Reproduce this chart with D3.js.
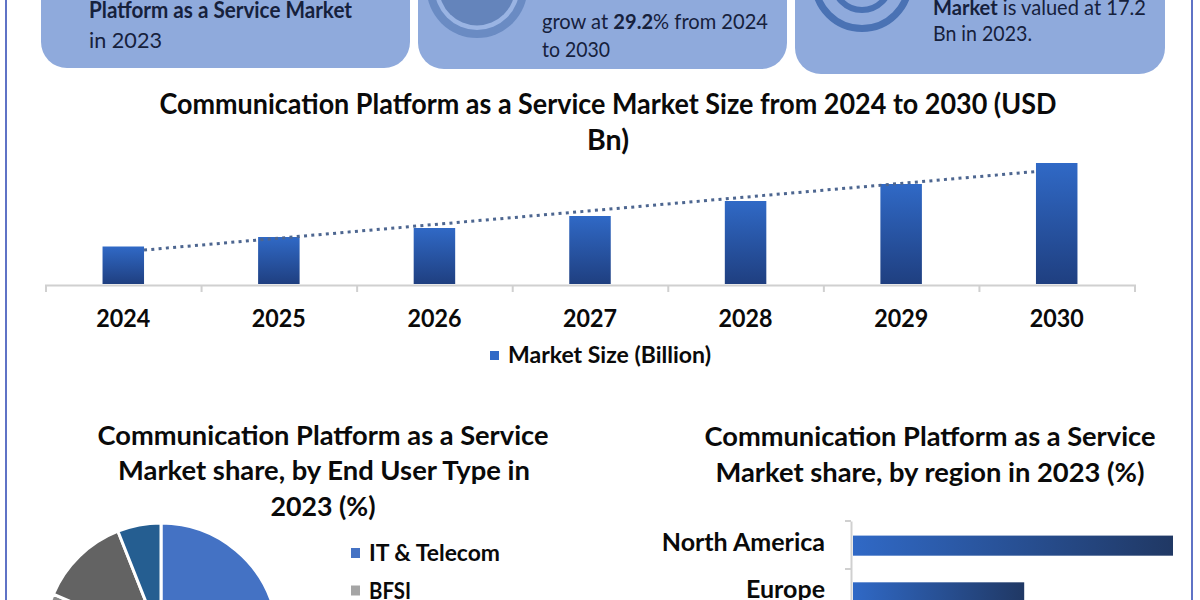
<!DOCTYPE html>
<html>
<head>
  <title>Communication Platform as a Service Market</title>
  <meta charset="utf-8" />
  <script src="https://d3js.org/d3.v7.min.js"></script>
  <style>
    html,body{margin:0;padding:0;background:#fff;}
    svg{display:block;}
    text{font-family:Lato,"Noto Sans",sans-serif;fill:#0a0a0a;}
    .card{fill:#16213c;}
  </style>
</head>
<body>
<script>
//values
var years = ['2024','2025','2026','2027','2028','2029','2030'];
var marketSize = [37.5,47,56,68,83,100,121];
var pieLabels = ['IT & Telecom','BFSI'];
var pieWidths = [131,42];
var pieValues = [44.4,20,17,12.6,6];
var pieColors = ['#4472c4','#a5a5a5','#8c8c8c','#636363','#255e91'];
var regions = ['North America','Europe'];
var regionShare = [40,21.4];

var svg = d3.select('body').append('svg').attr('width',1200).attr('height',600);
var defs = svg.append('defs');

function gradient(id,x2,y2,from,to){
  var g = defs.append('linearGradient').attr('id',id)
    .attr('x1',0).attr('y1',0).attr('x2',x2).attr('y2',y2);
  g.append('stop').attr('offset','0%').attr('stop-color',from);
  g.append('stop').attr('offset','100%').attr('stop-color',to);
}
gradient('barV',0,1,'#3069c6','#1f3f80');
gradient('barH',1,0,'#3069c6','#203864');

//text helper, fits to the width measured in the picture
function label(x,y,str,size,weight,anchor,width){
  var t = svg.append('text').attr('x',x).attr('y',y)
    .style('font-size',size+'px')
    .style('font-weight',weight||400)
    .attr('text-anchor',anchor||'start')
    .text(str);
  if(width) t.attr('textLength',width).attr('lengthAdjust','spacingAndGlyphs');
  return t;
}

//page border
[6,1192].forEach(function(x){
  svg.append('rect').attr('x',x-1).attr('y',0).attr('width',2).attr('height',600).attr('fill','#5f73c6');
});

//top cards
[[41,410,68],[418,787,69],[795,1165,74]].forEach(function(c){
  svg.append('rect').attr('x',c[0]).attr('y',-40).attr('width',c[1]-c[0]).attr('height',c[2]+40)
    .attr('rx',26).attr('fill','#8faadc');
});

//card icons
svg.append('circle').attr('cx',477).attr('cy',-12.5).attr('r',50.5).attr('fill','#6a8bc3');
svg.append('circle').attr('cx',477).attr('cy',-12.5).attr('r',42.5).attr('fill','#9ab4e3');
svg.append('circle').attr('cx',477).attr('cy',-12.5).attr('r',38).attr('fill','#6484bb');
[[47,7],[28.5,6]].forEach(function(r){
  svg.append('circle').attr('cx',862).attr('cy',-18.5).attr('r',r[0]).attr('fill','none')
    .attr('stroke','#4a72b4').attr('stroke-width',r[1]);
});

//card text
label(89,18,'Platform as a Service Market',23,700,'start',263).attr('class','card');
label(89,48,'in 2023',22,400,'start',73).attr('class','card');
var grow = label(542,29,'',21,400).attr('class','card').attr('textLength',226).attr('lengthAdjust','spacingAndGlyphs');
grow.append('tspan').text('grow at ');
grow.append('tspan').style('font-weight',700).text('29.2');
grow.append('tspan').text('% from 2024');
label(542,57,'to 2030',21,400,'start',68).attr('class','card');
var valued = label(933,15,'',21,400).attr('class','card').attr('textLength',213).attr('lengthAdjust','spacingAndGlyphs');
valued.append('tspan').style('font-weight',700).text('Market');
valued.append('tspan').text(' is valued at 17.2');
label(933,41,'Bn in 2023.',21,400,'start',99).attr('class','card');

//main chart
label(608,114,'Communication Platform as a Service Market Size from 2024 to 2030 (USD',28,700,'middle',897);
label(608,150,'Bn)',28,700,'middle',42);

var x = d3.scaleBand().domain(years).range([45.5,1134.5]);
var y = d3.scaleLinear().domain([0,121]).range([284,163]);
var barW = 41.5;

svg.append('g').selectAll('rect').data(marketSize).enter().append('rect')
  .attr('x',function(d,i){return x(years[i])+x.bandwidth()/2-barW/2})
  .attr('y',function(d){return y(d)})
  .attr('width',barW)
  .attr('height',function(d){return y(0)-y(d)})
  .attr('fill','url(#barV)');

//axis: ticks sit on the band edges, labels in the middle of the bands
var edges = d3.scaleLinear().domain([0,years.length]).range(x.range());
var edgeAxis = svg.append('g').attr('transform','translate(0,285)')
  .call(d3.axisBottom(edges).ticks(years.length).tickSize(7).tickSizeOuter(7).tickFormat(''));
edgeAxis.selectAll('path,line').attr('stroke','#d0d0d0').attr('stroke-width',2);

var labelAxis = svg.append('g').attr('transform','translate(0,285)')
  .call(d3.axisBottom(x).tickSize(0).tickPadding(25));
labelAxis.select('.domain').remove();
labelAxis.selectAll('text')
  .style('font-family','Lato')
  .style('font-size','24px')
  .style('font-weight',700)
  .attr('textLength',54)
  .attr('lengthAdjust','spacingAndGlyphs');

//trend line, least squares over the bars
var mx = d3.mean(marketSize,function(d,i){return i});
var my = d3.mean(marketSize);
var slope = d3.sum(marketSize,function(d,i){return (i-mx)*(d-my)})/d3.sum(marketSize,function(d,i){return (i-mx)*(i-mx)});
var xi = function(i){return x(years[0])+x.bandwidth()/2+i*x.step()};
var inset = (barW/2)/x.step();
var trend = d3.line().x(function(i){return xi(i)}).y(function(i){return y(my+slope*(i-mx))});
svg.append('path').attr('d',trend([inset,years.length-1-inset]))
  .attr('fill','none').attr('stroke','#4d6690').attr('stroke-width',3).attr('stroke-dasharray','3 4.3');

//legend of the main chart
svg.append('rect').attr('x',490).attr('y',351).attr('width',9).attr('height',9).attr('fill','#3069c6');
label(508,363,'Market Size (Billion)',23,700,'start',203);

//pie
label(323,445,'Communication Platform as a Service',27,700,'middle',451);
label(324,480,'Market share, by End User Type in',27,700,'middle',412);
label(323,516,'2023 (%)',27,700,'middle',105);

var pie = d3.pie().sort(null);
var arc = d3.arc().innerRadius(0).outerRadius(117);
svg.append('g').attr('transform','translate(161,640)')
  .selectAll('path').data(pie(pieValues)).enter().append('path')
  .attr('d',arc)
  .attr('fill',function(d,i){return pieColors[i]})
  .attr('stroke','#fff').attr('stroke-width',3);

pieLabels.forEach(function(name,i){
  var ly = 553+i*37.5;
  svg.append('rect').attr('x',351).attr('y',ly-5).attr('width',9).attr('height',10).attr('fill',pieColors[i]);
  label(369,ly+8,name,23,700,'start',pieWidths[i]);
});

//region bars
label(930,446,'Communication Platform as a Service',27,700,'middle',451);
label(930,482,'Market share, by region in 2023 (%)',27,700,'middle',429);

var ry = d3.scaleBand().domain(regions).range([521,617]).paddingInner(0.57).paddingOuter(0.3125);
var rx = d3.scaleLinear().domain([0,40]).range([853,1173]);
svg.append('g').selectAll('rect').data(regionShare).enter().append('rect')
  .attr('x',rx(0))
  .attr('y',function(d,i){return ry(regions[i])})
  .attr('width',function(d){return rx(d)-rx(0)})
  .attr('height',ry.bandwidth())
  .attr('fill','url(#barH)');
var rAxis = svg.append('g').attr('transform','translate(851,0)')
  .call(d3.axisLeft(ry).tickSize(0).tickPadding(26));
rAxis.select('.domain').attr('stroke','#d0d0d0').attr('stroke-width',2);
rAxis.selectAll('text')
  .style('font-family','Lato')
  .style('font-size','25px')
  .style('font-weight',700)
  .attr('dy','0.22em');
[521,569].forEach(function(t){
  svg.append('line').attr('x1',845).attr('x2',851).attr('y1',t).attr('y2',t)
    .attr('stroke','#d0d0d0').attr('stroke-width',2);
});
</script>
</body>
</html>
